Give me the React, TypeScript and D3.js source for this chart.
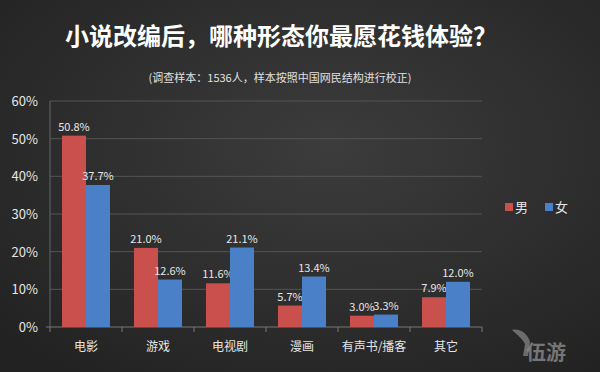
import React from 'react';
import { scaleBand, scaleLinear } from 'd3';

const categories = ['电影', '游戏', '电视剧', '漫画', '有声书/播客', '其它'];
const male = [50.8, 21.0, 11.6, 5.7, 3.0, 7.9];
const female = [37.7, 12.6, 21.1, 13.4, 3.3, 12.0];
const yTicks = [0, 10, 20, 30, 40, 50, 60];
const seriesNames = ['男', '女'];
const colors = ['#c9504d', '#4a80c8'];

const App = () => {
    let svgWidth = 600;
    let svgHeight = 372;
    let margin = { top: 101, right: 118, bottom: 45, left: 50 };
    let plotRight = svgWidth - margin.right;
    let plotBottom = svgHeight - margin.bottom;

    let x = scaleBand<string>().domain(categories).range([margin.left, plotRight]).paddingInner(0).paddingOuter(0);
    let inner = scaleBand<string>().domain(seriesNames).range([0, x.bandwidth()]).paddingInner(0).paddingOuter(0.5);
    let y = scaleLinear().domain([0, 60]).range([plotBottom, margin.top]);

    const font = "'Noto Sans CJK SC', 'Noto Sans', sans-serif";

    let bars = [];
    categories.forEach((c, i) => {
        [male[i], female[i]].forEach((v, s) => {
            let bx = x(c) + inner(seriesNames[s]);
            bars.push(<rect key={c + s} x={bx} y={y(v)} width={inner.bandwidth()} height={y(0) - y(v)} fill={colors[s]} />);
            bars.push(<text key={c + s + 't'} x={bx + inner.bandwidth() / 2} y={y(v) - 5} textAnchor='middle'
                fontSize={11} fill='#e6e6e6' fontFamily={font}>{v.toFixed(1)}%</text>);
        });
    });

    return (
        <div style={{ position: 'absolute', left: 0, top: 0, margin: 0 }}>
            <svg width={svgWidth} height={svgHeight} style={{ display: 'block' }}>
                <defs>
                    <radialGradient id='bg' cx='0.55' cy='0.4' r='0.75'>
                        <stop offset='0' stopColor='#3c3c3c' />
                        <stop offset='1' stopColor='#222222' />
                    </radialGradient>
                </defs>
                <rect width={svgWidth} height={svgHeight} fill='url(#bg)' />
                <text x={281} y={45} textAnchor='middle' fontSize={24} fontWeight='bold' fill='#ffffff' fontFamily={font}>小说改编后，哪种形态你最愿花钱体验？</text>
                <text x={280} y={82} textAnchor='middle' fontSize={11} fill='#e0e0e0' fontFamily={font}>(调查样本：1536人，样本按照中国网民结构进行校正)</text>

                <g>
                    {yTicks.map(t => (
                        <g key={t}>
                            {t > 0 && <line x1={margin.left} x2={plotRight} y1={y(t)} y2={y(t)} stroke='#555555' strokeWidth={1} />}
                            <text x={38} y={y(t) + 5} textAnchor='end' fontSize={13} fill='#e6e6e6' fontFamily={font}>{t}%</text>
                        </g>
                    ))}
                    <line x1={margin.left} x2={margin.left} y1={margin.top} y2={plotBottom} stroke='#666666' />
                    <line x1={margin.left - 4} x2={plotRight} y1={plotBottom} y2={plotBottom} stroke='#777777' />
                    {categories.concat(['']).map((c, i) => {
                        let tx = margin.left + i * x.bandwidth();
                        return <line key={'tk' + i} x1={tx} x2={tx} y1={plotBottom} y2={plotBottom + 5} stroke='#777777' />;
                    })}
                </g>

                <g>{bars}</g>

                {categories.map(c => (
                    <text key={c} x={x(c) + x.bandwidth() / 2} y={351} textAnchor='middle' fontSize={12} fill='#e6e6e6' fontFamily={font}>{c}</text>
                ))}

                <g>
                    {seriesNames.map((n, i) => (
                        <g key={n} transform={`translate(${505 + i * 40},203)`}>
                            <rect x={0} y={0} width={8} height={8} fill={colors[i]} />
                            <text x={10} y={9} fontSize={13} fill='#e6e6e6' fontFamily={font}>{n}</text>
                        </g>
                    ))}
                </g>

                <text x={546} y={360} textAnchor='middle' fontSize={20} fontWeight='bold' fill='#8a8a8a' opacity={0.8} fontFamily={font}>伍游</text>
                <path d='M512,330 C520,328 528,334 530,342 L528,356 L523,356 L525,344 C522,338 516,334 512,330 Z' fill='#8a8a8a' opacity={0.7} />
            </svg>
        </div>
    );
};

export default App;
